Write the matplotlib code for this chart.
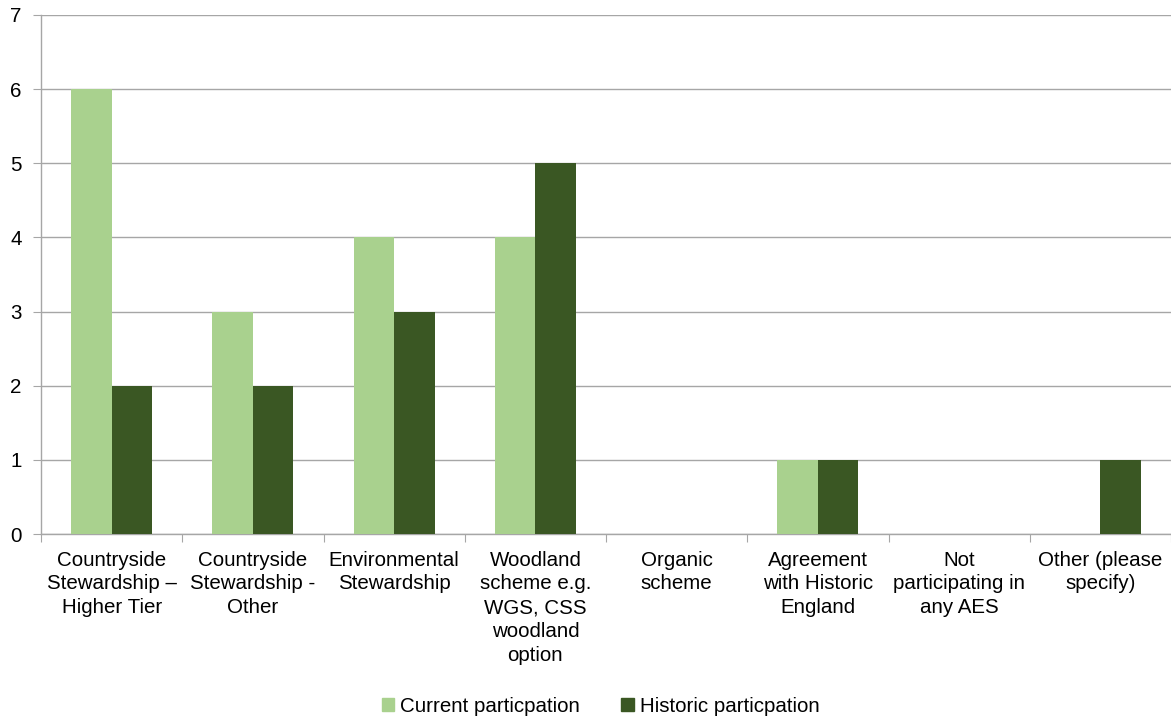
import matplotlib
matplotlib.use("Agg")
import matplotlib.pyplot as plt
import numpy as np
from matplotlib.patches import Patch

categories = ["Countryside\nStewardship \u2013\nHigher Tier",
              "Countryside\nStewardship -\nOther",
              "Environmental\nStewardship",
              "Woodland\nscheme e.g.\nWGS, CSS\nwoodland\noption",
              "Organic\nscheme",
              "Agreement\nwith Historic\nEngland",
              "Not\nparticipating in\nany AES",
              "Other (please\nspecify)"]
current = [6, 3, 4, 4, 0, 1, 0, 0]
historic = [2, 2, 3, 5, 0, 1, 0, 1]
series_names = ["Current particpation", "Historic particpation"]
yticks = [0, 1, 2, 3, 4, 5, 6, 7]

c_light = "#a9d18e"
c_dark = "#3a5723"

plt.rcParams['font.family'] = ['Liberation Sans', 'DejaVu Sans']
fs = 14.8

fig = plt.figure(figsize=(11.71, 7.19), dpi=100)
ax = fig.add_axes([41/1171, 1-534/719, 1-41/1171, (534-15)/719])

x = np.arange(len(categories))
w = 0.287
ax.bar(x - w/2, current, width=w, color=c_light, zorder=3)
ax.bar(x + w/2, historic, width=w, color=c_dark, zorder=3)

ax.set_xlim(-0.5, len(categories) - 0.5)
ax.set_ylim(0, 7)
ax.set_yticks(yticks)
ax.set_yticklabels([str(v) for v in yticks], fontsize=fs)
ax.yaxis.grid(True, color="#a6a6a6", linewidth=1, zorder=0)
ax.set_axisbelow(True)

ax.set_xticks(np.arange(len(categories) + 1) - 0.5)
ax.set_xticklabels([])
ax.set_xticks(x, minor=True)
ax.set_xticklabels(categories, minor=True, fontsize=fs, linespacing=1.32, va='top')
ax.tick_params(axis='x', which='major', length=6, color="#a6a6a6", direction='out')
ax.tick_params(axis='x', which='minor', length=0, pad=12)
ax.tick_params(axis='y', length=6, color="#a6a6a6", pad=8)

for s in ['top', 'right']:
    ax.spines[s].set_visible(False)
for s in ['left', 'bottom']:
    ax.spines[s].set_color("#a6a6a6")
    ax.spines[s].set_linewidth(1)

handles = [Patch(color=c_light), Patch(color=c_dark)]
fig.legend(handles, series_names, loc='center', bbox_to_anchor=(0.513, 1-706/719),
           ncol=2, frameon=False, fontsize=fs, handlelength=0.6, handleheight=0.6,
           handletextpad=0.3, columnspacing=2.0)

fig.savefig("out.png", dpi=100)
